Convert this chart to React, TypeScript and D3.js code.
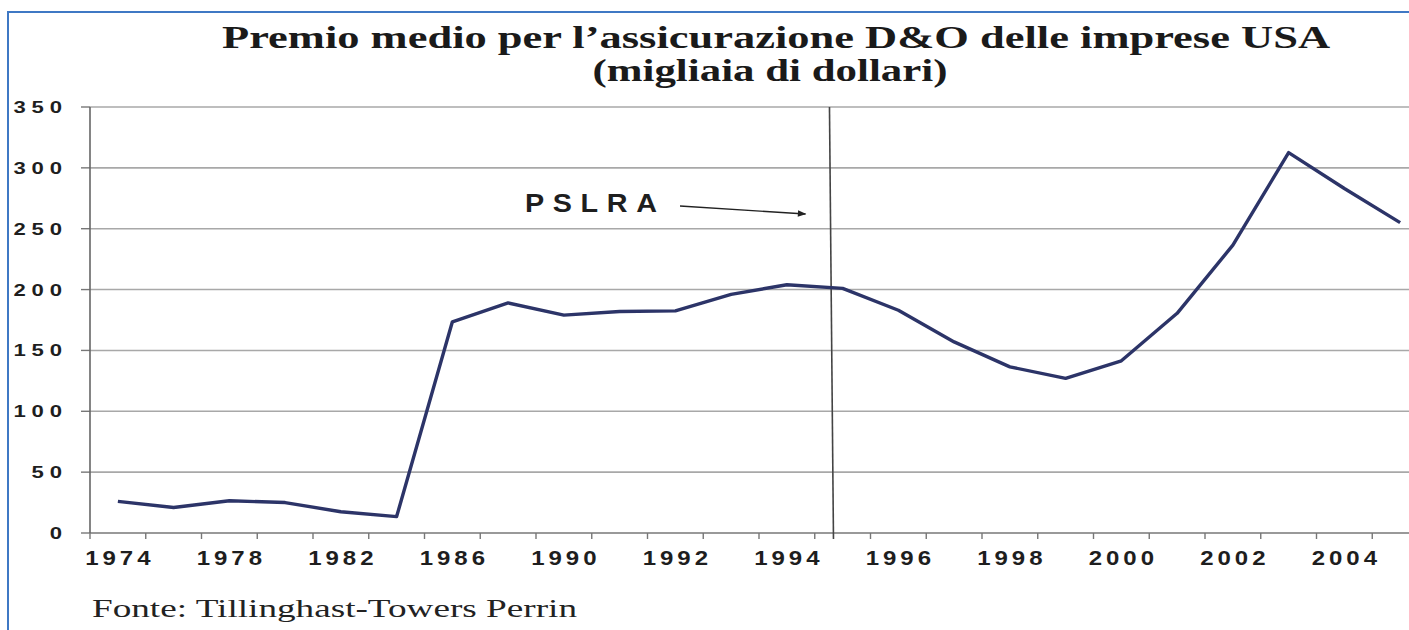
import React from 'react'
import * as d3 from 'd3'

const years = ['1974', '1976', '1978', '1980', '1982', '1984', '1986', '1988',
  '1990', '1991', '1992', '1993', '1994', '1995', '1996', '1997', '1998', '1999',
  '2000', '2001', '2002', '2003', '2004', '2005']
const premium = [26, 21, 26.5, 25, 17.5, 13.5, 173.5, 189, 179, 182, 182.5, 196,
  204, 201, 183, 157, 136.5, 127, 141.5, 180.5, 236.5, 312.5, 283, 255]
const yTicks = [0, 50, 100, 150, 200, 250, 300, 350]
const pslraYear = '1995'

const W = 1409
const H = 630
const left = 90
const bandW = 55.75
const top = 107
const bottom = 533

// wide, spaced sans labels like the original
const Wide = ({ x, y, k, size, ls, anchor, children }: any) => (
  <g transform={`translate(${x},${y}) scale(${k},1)`}>
    <text x={anchor === 'start' ? 0 : anchor === 'end' ? ls : ls / 2} textAnchor={anchor}
      fontFamily="Liberation Sans" fontWeight="bold" fontSize={size} letterSpacing={ls} fill="#1e1e1e">
      {children}
    </text>
  </g>
)

const App = () => {
  const x = d3.scaleBand<string>().domain(years).range([left, left + bandW * years.length]).padding(0)
  const y = d3.scaleLinear().domain([0, 350]).range([bottom, top])
  const cx = (d: string) => (x(d) as number) + x.bandwidth() / 2
  const line = d3.line<number>().x((_, i) => cx(years[i])).y(v => y(v))
  const vx = (x(pslraYear) as number) + x.bandwidth() * 0.3
  const boundaries = years.map(d => x(d) as number).concat([x.range()[1]])

  return (
    <svg width={W} height={H} style={{ position: 'absolute', left: 0, top: 0, background: '#fff' }}>
      <defs>
        <marker id="ah" viewBox="0 0 10 10" refX="9" refY="5" markerWidth="7" markerHeight="6" orient="auto">
          <path d="M0,1 L10,5 L0,9 z" fill="#222" />
        </marker>
      </defs>
      <rect x={8} y={12} width={W + 20} height={H + 20} fill="none" stroke="#3f78c4" strokeWidth={2} />

      <text x={776} y={48} textAnchor="middle" fontFamily="Liberation Serif" fontWeight="bold" fontSize={32}
        textLength={1108} lengthAdjust="spacingAndGlyphs" fill="#1a1a1a">
        Premio medio per l’assicurazione D&amp;O delle imprese USA
      </text>
      <text x={770} y={81} textAnchor="middle" fontFamily="Liberation Serif" fontWeight="bold" fontSize={32}
        textLength={355} lengthAdjust="spacingAndGlyphs" fill="#1a1a1a">
        (migliaia di dollari)
      </text>

      {yTicks.map(t => (
        <g key={t}>
          <line x1={left} x2={W} y1={y(t)} y2={y(t)} stroke={t === 0 ? '#777' : '#a8a8a8'} strokeWidth={1.6} />
          <line x1={left - 9} x2={left} y1={y(t)} y2={y(t)} stroke="#777" strokeWidth={1.4} />
          <Wide x={62} y={y(t) + 6} k={1.3} size={17} ls={4.5} anchor="end">{t}</Wide>
        </g>
      ))}
      <line x1={left} x2={left} y1={top} y2={bottom} stroke="#666" strokeWidth={1.6} />

      {boundaries.map((b, i) => (
        <line key={i} x1={b} x2={b} y1={bottom} y2={bottom + 6} stroke="#777" strokeWidth={1.4} />
      ))}
      {years.map((d, i) => i % 2 === 0 ? (
        <Wide key={d} x={cx(d)} y={565} k={1.2} size={20} ls={3.3} anchor="middle">{d}</Wide>
      ) : null)}

      <line x1={vx - 2} x2={vx + 2} y1={top} y2={bottom + 6} stroke="#444" strokeWidth={1.6} />

      <path d={line(premium) as string} fill="none" stroke="#2c3468" strokeWidth={3.4} strokeLinejoin="round" />

      <Wide x={525} y={212} k={1.15} size={25} ls={7.5} anchor="start">PSLRA</Wide>
      <line x1={680} y1={206} x2={vx - 26} y2={214} stroke="#222" strokeWidth={1.4} markerEnd="url(#ah)" />

      <text x={92} y={617} fontFamily="Liberation Serif" fontSize={26}
        textLength={485} lengthAdjust="spacingAndGlyphs" fill="#222">Fonte: Tillinghast-Towers Perrin</text>
    </svg>
  )
}

export default App
